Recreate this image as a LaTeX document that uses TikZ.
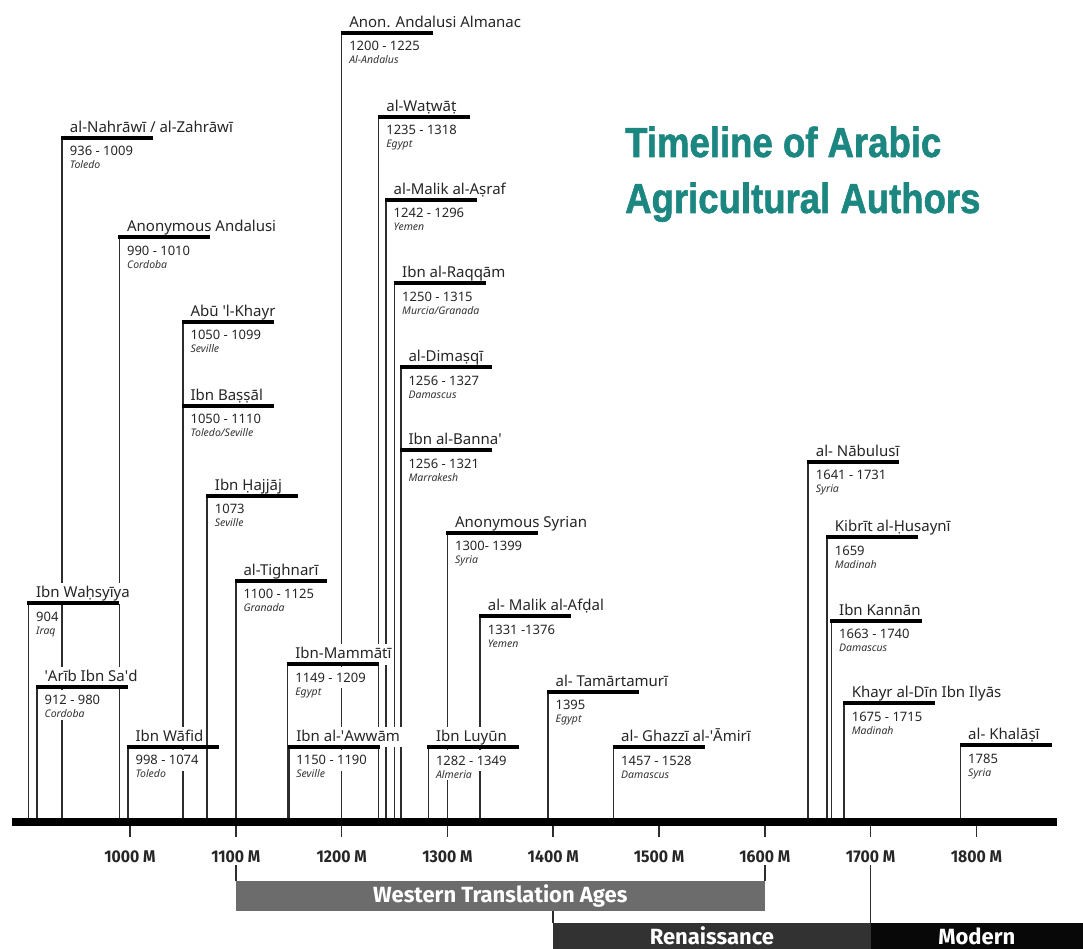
\documentclass[tikz,border=0pt]{standalone}
\usepackage{fontspec}
\usepackage{graphicx}
\setmainfont{Noto Sans}
\IfFontExistsTF{Liberation Sans Bold}
  {\newfontfamily\titlefont{Liberation Sans Bold}[FakeBold=1.5]}
  {\newfontfamily\titlefont{Liberation Sans}[FakeBold=3.5]}
\IfFontExistsTF{Fira Sans Bold}
  {\newfontfamily\boldsans{Fira Sans Bold}}
  {\newfontfamily\boldsans{Noto Sans}[FakeBold=2]}
\pgfdeclarelayer{paper}
\pgfdeclarelayer{lines}
\pgfsetlayers{paper,lines,main}
\definecolor{teal1}{RGB}{28,135,128}
\definecolor{wgray}{RGB}{108,108,108}
\definecolor{rgray}{RGB}{50,50,50}
\definecolor{mblack}{RGB}{8,8,8}
\definecolor{lgray}{RGB}{45,45,45}
\newcommand\myq{\textquotesingle}
\newcommand\AgAuthor[6]{%
  \pgfmathsetmacro\ax{130+(#2-1000)*1.058}%
  \coordinate (#1-top) at (\ax,#3);
  \coordinate (#1-foot) at (\ax,822);
  \begin{pgfonlayer}{lines}
    \draw[vline] (#1-foot) -- (#1-top);
  \end{pgfonlayer}
  \node[namelbl] (#1-name) at (\ax+5.5,#3-5.5) {#4};
  \draw[barline] ([xshift=-1pt]#1-top) -- ++(92,0);
  \node[datelbl] (#1-dates) at (\ax+5.5,#3+18) {#5};
  \node[loclbl] (#1-loc) at (\ax+5.5,#3+31) {#6};
}
\begin{document}
\begin{tikzpicture}[x=1pt,y=-1pt,
  vline/.style={draw=lgray, line width=1.7pt},
  barline/.style={draw=black, line width=4pt},
  namelbl/.style={anchor=base west, fill=white, inner xsep=2pt, inner ysep=3pt, text depth=3pt, font=\fontsize{15}{18}\selectfont, text=black!85},
  datelbl/.style={anchor=base west, fill=white, inner xsep=2pt, inner ysep=4pt, text height=11pt, text depth=2pt, font=\fontsize{13}{15}\selectfont, text=black!85},
  loclbl/.style={anchor=base west, fill=white, inner sep=2pt, font=\fontsize{10.5}{12}\selectfont\itshape, text=black!80},
  axisline/.style={draw=black, line width=8pt},
  tickline/.style={draw=lgray, line width=1.5pt},
  ticklbl/.style={anchor=base, inner sep=3pt, font=\boldsans\fontsize{17}{20}\selectfont, text=black!85},
  conn/.style={draw=lgray, line width=1.5pt},
  band/.style={inner sep=0pt, text=white, font=\boldsans\fontsize{22}{26}\selectfont},
  titletext/.style={anchor=base west, inner sep=0pt, text=teal1, font=\titlefont\fontsize{42}{46}\selectfont}
]
\begin{pgfonlayer}{paper}
\fill[white] (0,0) rectangle (1083,949);
\end{pgfonlayer}
\useasboundingbox (0,0) rectangle (1083,949);

% title
\node[titletext] (title1) at (625,157) {\scalebox{0.87}[1]{Timeline of Arabic}};
\node[titletext] (title2) at (625,213) {\scalebox{0.87}[1]{Agricultural Authors}};

% authors
\AgAuthor{nah}{936}{138}{al-Nahrāwī / al-Zahrāwī}{936 - 1009}{Toledo}
\AgAuthor{anand}{990}{237.5}{Anonymous Andalusi}{990 - 1010}{Cordoba}
\AgAuthor{abu}{1050}{321.7}{Abū \myq l-Khayr}{1050 - 1099}{Seville}
\AgAuthor{bas}{1050}{405.7}{Ibn Baṣṣāl}{1050 - 1110}{Toledo/Seville}
\AgAuthor{haj}{1073}{495.5}{Ibn Ḥajjāj}{1073}{Seville}
\AgAuthor{tig}{1100}{580.5}{al-Tighnarī}{1100 - 1125}{Granada}
\AgAuthor{wah}{904}{603.3}{Ibn Waḥsyīya}{904}{Iraq}
\AgAuthor{arib}{912}{686.7}{\myq Arīb Ibn Sa\myq d}{912 - 980}{Cordoba}
\AgAuthor{waf}{998}{746.5}{Ibn Wāfid}{998 - 1074}{Toledo}
\AgAuthor{mam}{1149}{664}{Ibn-Mammātī}{1149 - 1209}{Egypt}
\AgAuthor{awm}{1150}{746.5}{Ibn al-\myq Awwām}{1150 - 1190}{Seville}
\AgAuthor{alm}{1200}{32.7}{Anon. Andalusi Almanac}{1200 - 1225}{Al-Andalus}
\AgAuthor{wat}{1235}{116.7}{al-Waṭwāṭ}{1235 - 1318}{Egypt}
\AgAuthor{ash}{1242}{200}{al-Malik al-Aṣraf}{1242 - 1296}{Yemen}
\AgAuthor{raq}{1250}{283.3}{Ibn al-Raqqām}{1250 - 1315}{Murcia/Granada}
\AgAuthor{dim}{1256}{367.3}{al-Dimaṣqī}{1256 - 1327}{Damascus}
\AgAuthor{ban}{1256}{450}{Ibn al-Banna\myq}{1256 - 1321}{Marrakesh}
\AgAuthor{syr}{1300}{532.7}{Anonymous Syrian}{1300- 1399}{Syria}
\AgAuthor{afd}{1331}{616}{al- Malik al-Afḍal}{1331 -1376}{Yemen}
\AgAuthor{luy}{1282}{747}{Ibn Luyūn}{1282 - 1349}{Almeria}
\AgAuthor{tam}{1395}{691.7}{al- Tamārtamurī}{1395}{Egypt}
\AgAuthor{gha}{1457}{747}{al- Ghazzī al-\myq Āmirī}{1457 - 1528}{Damascus}
\AgAuthor{nab}{1641}{461.7}{al- Nābulusī}{1641 - 1731}{Syria}
\AgAuthor{kib}{1659}{537}{Kibrīt al-Ḥusaynī}{1659}{Madinah}
\AgAuthor{kan}{1663}{620.7}{Ibn Kannān}{1663 - 1740}{Damascus}
\AgAuthor{kha}{1675}{703}{Khayr al-Dīn Ibn Ilyās}{1675 - 1715}{Madinah}
\AgAuthor{khl}{1785}{745}{al- Khalāṣī}{1785}{Syria}

% axis
\coordinate (axL) at (12,822);
\coordinate (axR) at (1057,822);
\draw[axisline] (axL) -- (axR);
\foreach \yr in {1000,1100,1200,1300,1400,1500,1600,1700,1800}{
  \coordinate (tk\yr) at ({130+(\yr-1000)*1.058},826);
  \draw[tickline] (tk\yr) -- ++(0,11);
  \node[ticklbl] (l\yr) at ({130+(\yr-1000)*1.058},862) {\scalebox{0.93}[1]{\yr\ M}};
}

% bands
\node[band, fill=wgray, minimum width=529pt, minimum height=30pt] (west) at (500.3,895.7) {Western Translation Ages};
\node[band, fill=rgray, minimum width=317.4pt, minimum height=26.3pt] (ren) at (711.9,935.85) {Renaissance};
\node[band, fill=mblack, minimum width=212.4pt, minimum height=26.3pt] (mod) at (976.8,935.85) {Modern};

\draw[conn] (l1100.south) -- (l1100.south |- west.north);
\draw[conn] (l1600.south) -- (l1600.south |- west.north);
\draw[conn] (ren.north west) -- (ren.north west |- west.south);
\draw[conn] (l1700.south) -- (l1700.south |- ren.north);
\end{tikzpicture}
\end{document}
